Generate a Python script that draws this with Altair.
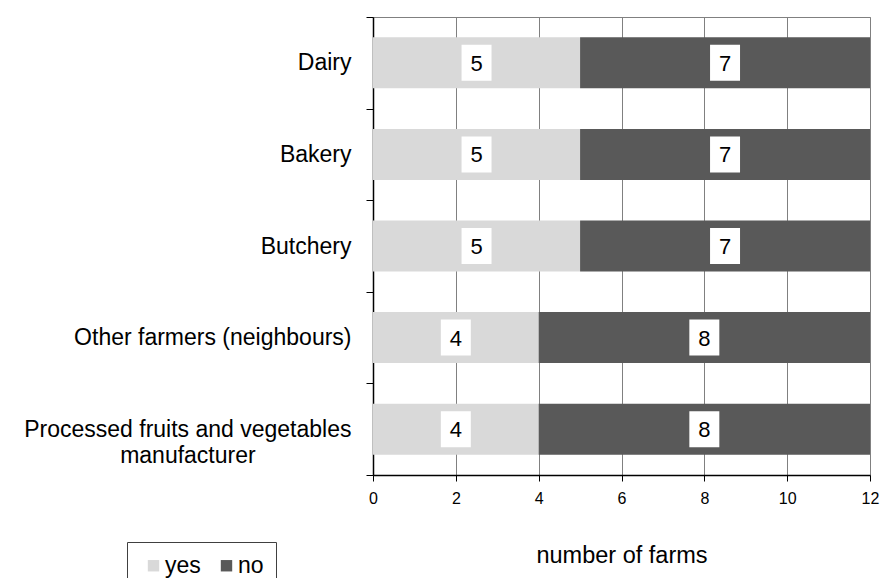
import altair as alt
import pandas as pd

# Survey answers: does the farm supply each kind of buyer?
categories = [
    "Dairy",
    "Bakery",
    "Butchery",
    "Other farmers (neighbours)",
    "Processed fruits and vegetables manufacturer",
]
yes_counts = [5, 5, 5, 4, 4]
no_counts = [7, 7, 7, 8, 8]
answers = ["yes", "no"]
answer_colors = ["#d9d9d9", "#595959"]
x_ticks = [0, 2, 4, 6, 8, 10, 12]

rows = []
for cat, y_val, n_val in zip(categories, yes_counts, no_counts):
    rows.append({"source": cat, "answer": "yes", "farms": y_val, "order": 0})
    rows.append({"source": cat, "answer": "no", "farms": n_val, "order": 1})
df = pd.DataFrame(rows)

FONT = "Liberation Sans"

# second line of the long label is pushed left with no-break spaces,
# closed by a zero-width space so the padding is kept
pad = "\u00a0" * 15 + "\u200b"
label_expr = (
    f"datum.value == '{categories[4]}' ? "
    f"['Processed fruits and vegetables', 'manufacturer{pad}'] : datum.value"
)

y_axis = alt.Axis(
    title=None,
    tickBand="extent",
    grid=False,
    domainColor="#000000",
    domainWidth=1.5,
    tickColor="#000000",
    tickSize=7,
    labelFontSize=23,
    labelColor="#000000",
    labelPadding=15,
    labelLimit=400,
    labelLineHeight=26,
    labelExpr=label_expr,
)
x_axis = alt.Axis(
    title="number of farms",
    values=x_ticks,
    grid=True,
    gridColor="#808080",
    gridWidth=1,
    domainColor="#000000",
    domainWidth=1.5,
    tickColor="#000000",
    tickSize=6,
    labelFontSize=16,
    labelColor="#000000",
    labelPadding=9,
    labelFlush=False,
    titleFontSize=23.5,
    titleFontWeight="normal",
    titleColor="#000000",
    titlePadding=37,
)

y_enc = alt.Y(
    "source:N",
    sort=categories,
    scale=alt.Scale(paddingInner=0, paddingOuter=0),
    axis=y_axis,
)
x_scale = alt.Scale(domain=[0, 12], nice=False)

base = alt.Chart(df).transform_stack(
    stack="farms",
    groupby=["source"],
    as_=["x0", "x1"],
    sort=[alt.SortField("order", order="ascending")],
).transform_calculate(mid="(datum.x0 + datum.x1) / 2")

bars = base.mark_bar(height=51).encode(
    y=y_enc,
    x=alt.X("x0:Q", scale=x_scale, axis=x_axis),
    x2="x1:Q",
    color=alt.Color(
        "answer:N",
        scale=alt.Scale(domain=answers, range=answer_colors),
        legend=alt.Legend(
            title=None,
            orient="none",
            legendX=-246,
            legendY=525,
            direction="horizontal",
            strokeColor="#404040",
            padding=12,
            symbolType="square",
            symbolSize=130,
            symbolStrokeWidth=0,
            symbolOffset=3,
            labelFontSize=23,
            labelColor="#000000",
            labelOffset=0,
            columnPadding=11,
        ),
    ),
)

# white box behind each value label
box_shape = "M-0.833,-1H0.833V1H-0.833Z"
boxes = base.mark_point(
    shape=box_shape, size=1296, filled=True, color="#ffffff", opacity=1, strokeWidth=0
).encode(
    y=y_enc,
    x=alt.X("mid:Q", scale=x_scale, axis=x_axis),
)

texts = base.mark_text(fontSize=22, color="#000000", baseline="middle", dy=1).encode(
    y=y_enc,
    x=alt.X("mid:Q", scale=x_scale, axis=x_axis),
    text="farms:Q",
)

chart = (
    alt.layer(bars, boxes, texts)
    .properties(
        width=497,
        height=458,
        padding={"left": 373, "top": 17, "right": 20, "bottom": 103},
        autosize=alt.AutoSizeParams(type="none"),
    )
    .configure(font=FONT)
    .configure_view(stroke="#808080", strokeWidth=1)
)

chart.save("out.html", embed_options={"renderer": "svg", "actions": False})
